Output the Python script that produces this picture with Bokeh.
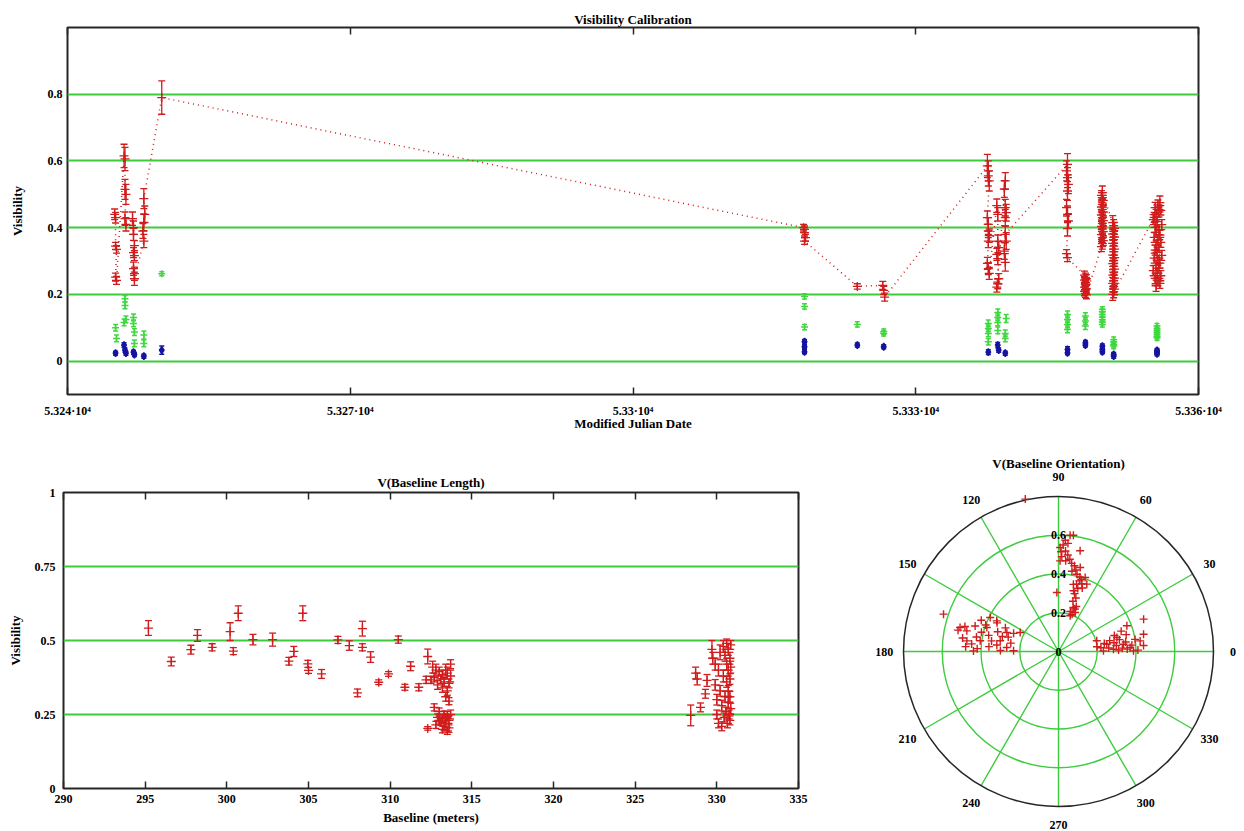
import json
import numpy as np
from bokeh.plotting import figure
from bokeh.layouts import column, row
from bokeh.models import Range1d, FixedTicker, LinearAxis, CustomJSTickFormatter
from bokeh.embed import file_html
from bokeh.resources import INLINE
from bokeh.core.properties import value

# ---------------------------------------------------------------- data
mjd_ticks = [53240, 53270, 53300, 53330, 53360]
mjd_tick_labels = ["5.324·10⁴", "5.327·10⁴", "5.33·10⁴", "5.333·10⁴", "5.336·10⁴"]
vis_ticks_top = [0, 0.2, 0.4, 0.6, 0.8]

red_mjd = [
    53245.0, 53245.1, 53245.1, 53245.2, 53245.1, 53245.2,
    53246.0, 53246.1, 53246.1, 53246.2, 53246.1, 53246.2,
    53246.9, 53247.0, 53247.0, 53247.1, 53247.0, 53247.1, 53247.0, 53247.1, 53247.1,
    53248.1, 53248.0, 53248.1, 53248.2, 53248.1,
    53250.0,
    53318.1, 53318.2, 53318.2, 53318.3, 53318.2,
    53323.8,
    53326.5, 53326.6, 53326.7,
    53337.6, 53337.7, 53337.7, 53337.8, 53337.6, 53337.7, 53337.7, 53337.8, 53337.7, 53337.6, 53337.7, 53337.8,
    53338.6, 53338.7, 53338.7, 53338.8, 53338.6, 53338.7, 53338.8, 53338.7, 53338.6,
    53339.5, 53339.4, 53339.5, 53339.6, 53339.5, 53339.4, 53339.5, 53339.6, 53339.5,
    53346.1, 53346.0, 53346.1, 53346.2, 53346.1, 53346.0, 53346.1, 53346.2, 53346.1, 53346.0, 53346.1,
    53347.9, 53348.0, 53348.1, 53347.9, 53348.0, 53348.1, 53348.0, 53347.9, 53348.1, 53348.0, 53347.9, 53348.0, 53348.1,
    53349.7, 53349.8, 53349.9, 53349.8, 53349.7, 53349.9, 53349.8, 53349.7, 53349.8, 53349.9,
    53349.8, 53349.7, 53349.9, 53349.8, 53349.7, 53349.8, 53349.9, 53349.8, 53349.7, 53349.8,
    53350.9, 53351.0, 53351.1, 53351.0, 53350.9, 53351.1, 53351.0, 53350.9, 53351.0, 53351.1,
    53351.0, 53350.9, 53351.1, 53351.0, 53350.9, 53351.0, 53351.1, 53351.0, 53350.9, 53351.1,
    53351.0, 53350.9, 53351.0, 53351.1, 53351.0, 53350.9,
    53355.3, 53355.5, 53355.8, 53356.0, 53355.4, 53355.7, 53355.9, 53355.2, 53355.6, 53356.1,
    53355.4, 53355.8, 53355.5, 53355.9, 53355.3, 53355.7, 53356.0, 53355.5, 53355.8, 53355.4,
    53355.6, 53356.1, 53355.3, 53355.7, 53355.9, 53355.5, 53355.8, 53355.2, 53355.6, 53356.0,
    53355.4, 53355.7, 53355.9, 53355.5,
]
red_vis = [
    0.440, 0.430, 0.345, 0.335, 0.252, 0.242,
    0.615, 0.606, 0.515, 0.500, 0.427, 0.410,
    0.427, 0.400, 0.380, 0.346, 0.325, 0.316, 0.277, 0.262, 0.247,
    0.360, 0.390, 0.416, 0.440, 0.487,
    0.790,
    0.400, 0.395, 0.385, 0.370, 0.360,
    0.224,
    0.227, 0.212, 0.192,
    0.585, 0.570, 0.555, 0.540, 0.430, 0.410, 0.390, 0.376, 0.360, 0.293, 0.277, 0.263,
    0.466, 0.440, 0.360, 0.340, 0.320, 0.307, 0.247, 0.232, 0.222,
    0.540, 0.516, 0.460, 0.445, 0.430, 0.330, 0.296, 0.360, 0.380,
    0.590, 0.570, 0.550, 0.530, 0.510, 0.460, 0.440, 0.420, 0.397, 0.322, 0.310,
    0.258, 0.251, 0.247, 0.243, 0.236, 0.231, 0.229, 0.222, 0.217, 0.214, 0.209, 0.203, 0.199,
    0.343, 0.352, 0.361, 0.370, 0.379, 0.388, 0.396, 0.404, 0.413, 0.421,
    0.430, 0.438, 0.447, 0.455, 0.462, 0.470, 0.482, 0.490, 0.497, 0.505,
    0.415, 0.406, 0.398, 0.389, 0.381, 0.372, 0.364, 0.353, 0.345, 0.336,
    0.328, 0.318, 0.310, 0.301, 0.292, 0.284, 0.276, 0.267, 0.258, 0.249,
    0.241, 0.233, 0.224, 0.216, 0.208, 0.200,
    0.431, 0.439, 0.447, 0.452, 0.460, 0.468, 0.475, 0.424, 0.418, 0.409,
    0.401, 0.394, 0.386, 0.378, 0.371, 0.363, 0.356, 0.348, 0.341, 0.333,
    0.326, 0.317, 0.309, 0.302, 0.294, 0.287, 0.279, 0.271, 0.264, 0.256,
    0.248, 0.241, 0.233, 0.226,
]
red_err = [
    0.016, 0.016, 0.011, 0.011, 0.012, 0.012,
    0.035, 0.035, 0.030, 0.030, 0.020, 0.020,
    0.020, 0.020, 0.018, 0.015, 0.015, 0.015, 0.020, 0.020, 0.020,
    0.020, 0.022, 0.025, 0.025, 0.030,
    0.050,
    0.010, 0.010, 0.010, 0.010, 0.010,
    0.008,
    0.012, 0.012, 0.012,
    0.035, 0.030, 0.030, 0.030, 0.020, 0.020, 0.020, 0.020, 0.020, 0.018, 0.018, 0.018,
    0.020, 0.020, 0.018, 0.018, 0.018, 0.018, 0.015, 0.015, 0.015,
    0.025, 0.025, 0.025, 0.025, 0.025, 0.025, 0.026, 0.025, 0.025,
    0.032, 0.030, 0.030, 0.028, 0.028, 0.025, 0.025, 0.022, 0.022, 0.012, 0.012,
    0.012, 0.013, 0.012, 0.011, 0.012, 0.013, 0.012, 0.012, 0.011, 0.012, 0.013, 0.012, 0.012,
    0.015, 0.016, 0.015, 0.014, 0.015, 0.016, 0.015, 0.015, 0.014, 0.015,
    0.016, 0.015, 0.015, 0.014, 0.015, 0.016, 0.015, 0.015, 0.014, 0.020,
    0.021, 0.018, 0.018, 0.017, 0.018, 0.019, 0.018, 0.018, 0.017, 0.018,
    0.019, 0.018, 0.018, 0.017, 0.018, 0.019, 0.018, 0.018, 0.017, 0.018,
    0.019, 0.018, 0.018, 0.017, 0.018, 0.018,
    0.015, 0.016, 0.015, 0.014, 0.016, 0.015, 0.020, 0.015, 0.014, 0.015,
    0.016, 0.015, 0.015, 0.014, 0.015, 0.016, 0.015, 0.015, 0.014, 0.015,
    0.016, 0.015, 0.015, 0.014, 0.015, 0.016, 0.015, 0.015, 0.014, 0.015,
    0.016, 0.015, 0.015, 0.017,
]

green_mjd = [
    53245.1, 53245.2, 53246.1, 53246.1, 53246.0, 53246.2, 53247.0, 53247.0, 53247.1, 53247.1, 53248.1, 53248.1, 53250.0,
    53318.2, 53318.2, 53318.2, 53323.8, 53326.6, 53326.6,
    53337.7, 53337.7, 53337.7, 53337.7, 53338.7, 53338.7, 53338.7, 53338.7, 53339.6, 53339.5, 53339.5,
    53346.1, 53346.1, 53346.1, 53346.1, 53348.0, 53348.0, 53348.0,
    53349.8, 53349.8, 53349.8, 53349.8, 53349.8, 53349.8, 53349.8, 53351.0, 53351.0, 53351.0, 53351.0,
    53355.6, 53355.6, 53355.6, 53355.6, 53355.6, 53355.6, 53355.6,
]
green_vis = [
    0.100, 0.068, 0.187, 0.167, 0.116, 0.125, 0.131, 0.113, 0.087, 0.053, 0.078, 0.053, 0.262,
    0.194, 0.164, 0.102, 0.110, 0.088, 0.083,
    0.113, 0.098, 0.083, 0.058, 0.146, 0.131, 0.116, 0.092, 0.128, 0.083, 0.068,
    0.140, 0.125, 0.110, 0.095, 0.135, 0.120, 0.105,
    0.155, 0.148, 0.140, 0.132, 0.124, 0.117, 0.110, 0.064, 0.057, 0.050, 0.045,
    0.105, 0.098, 0.092, 0.086, 0.080, 0.074, 0.070,
]
green_err = [
    0.010, 0.010, 0.010, 0.010, 0.010, 0.010, 0.010, 0.010, 0.010, 0.010, 0.012, 0.010, 0.006,
    0.008, 0.008, 0.008, 0.008, 0.008, 0.008,
    0.010, 0.010, 0.010, 0.010, 0.010, 0.010, 0.010, 0.010, 0.012, 0.010, 0.010,
    0.010, 0.010, 0.010, 0.010, 0.010, 0.010, 0.010,
    0.008, 0.008, 0.008, 0.008, 0.008, 0.008, 0.008, 0.008, 0.008, 0.008, 0.008,
    0.008, 0.008, 0.008, 0.008, 0.008, 0.008, 0.008,
]

blue_mjd = [
    53245.1, 53246.0, 53246.1, 53246.2, 53247.0, 53247.1, 53248.1, 53250.0,
    53318.2, 53318.2, 53318.2, 53323.8, 53326.6,
    53337.7, 53338.7, 53338.8, 53339.5,
    53346.1, 53346.1, 53348.0, 53348.0, 53349.8, 53349.8, 53349.8, 53351.0, 53351.0,
    53355.6, 53355.6, 53355.6,
]
blue_vis = [
    0.024, 0.048, 0.033, 0.024, 0.027, 0.020, 0.015, 0.033,
    0.058, 0.043, 0.028, 0.048, 0.043,
    0.027, 0.048, 0.033, 0.024,
    0.035, 0.025, 0.055, 0.048, 0.045, 0.035, 0.028, 0.020, 0.015,
    0.032, 0.027, 0.022,
]
blue_err = [
    0.006, 0.007, 0.006, 0.006, 0.006, 0.006, 0.006, 0.012,
    0.007, 0.006, 0.006, 0.006, 0.006,
    0.007, 0.008, 0.006, 0.006,
    0.008, 0.006, 0.007, 0.006, 0.006, 0.006, 0.006, 0.006, 0.006,
    0.006, 0.006, 0.006,
]

baseline_ticks = [290, 295, 300, 305, 310, 315, 320, 325, 330, 335]
vis_ticks_bl = [0, 0.25, 0.5, 0.75, 1]

bl_len = [
    295.2, 296.6, 297.8, 298.2, 299.1, 300.2, 300.4, 300.7, 301.6, 302.8,
    303.8, 304.1, 304.65, 304.96, 305.0, 305.8, 306.8, 307.5, 308.0, 308.3,
    308.3, 308.8, 309.3, 309.9, 310.5, 310.9, 311.25, 311.75, 312.3, 312.2, 312.5,
    312.6, 312.8, 313.0, 313.2, 313.4, 313.5, 312.7, 313.1, 313.3, 313.6,
    312.9, 313.2, 313.5, 313.4, 313.6, 312.7, 313.0, 313.3, 313.5, 312.9,
    313.2, 313.6, 313.1, 313.4, 312.8, 313.3, 313.6, 313.5, 312.3, 313.2,
    313.4, 313.0, 313.7, 313.7, 313.7,
    328.4, 328.7, 328.8, 329.0, 329.3, 329.4, 329.7, 329.75, 329.9, 329.9,
    330.0, 330.0, 330.1, 330.1, 330.2, 330.2, 330.3, 330.3, 330.4, 330.4,
    330.45, 330.5, 330.5, 330.55, 330.6, 330.6, 330.6, 330.65, 330.7, 330.7,
    330.7, 330.7, 330.75, 330.8, 330.8, 330.8, 330.8, 330.85, 330.85, 330.85,
]
bl_vis = [
    0.542, 0.429, 0.469, 0.517, 0.477, 0.530, 0.464, 0.592, 0.503, 0.503,
    0.430, 0.463, 0.592, 0.421, 0.399, 0.387, 0.502, 0.483, 0.323, 0.540,
    0.477, 0.444, 0.359, 0.387, 0.503, 0.342, 0.413, 0.342, 0.446, 0.367, 0.367,
    0.410, 0.400, 0.395, 0.385, 0.400, 0.390, 0.375, 0.370, 0.360, 0.355,
    0.350, 0.340, 0.330, 0.310, 0.295, 0.274, 0.260, 0.250, 0.245, 0.240,
    0.235, 0.230, 0.225, 0.220, 0.215, 0.210, 0.205, 0.195, 0.203, 0.200,
    0.240, 0.230, 0.420, 0.380, 0.250,
    0.247, 0.390, 0.370, 0.274, 0.320, 0.365, 0.470, 0.440, 0.420, 0.350,
    0.300, 0.250, 0.400, 0.220, 0.460, 0.330, 0.280, 0.210, 0.480, 0.380,
    0.240, 0.450, 0.310, 0.260, 0.490, 0.420, 0.360, 0.220, 0.470, 0.400,
    0.330, 0.290, 0.250, 0.440, 0.370, 0.310, 0.230, 0.485, 0.410, 0.270,
]
bl_err = [
    0.025, 0.015, 0.015, 0.020, 0.012, 0.030, 0.012, 0.025, 0.018, 0.022,
    0.013, 0.017, 0.025, 0.012, 0.010, 0.015, 0.012, 0.016, 0.013, 0.025,
    0.012, 0.018, 0.008, 0.008, 0.012, 0.010, 0.015, 0.012, 0.025, 0.012, 0.012,
    0.020, 0.020, 0.015, 0.015, 0.020, 0.020, 0.015, 0.015, 0.015, 0.015,
    0.015, 0.015, 0.015, 0.015, 0.012, 0.012, 0.012, 0.012, 0.015, 0.012,
    0.015, 0.015, 0.012, 0.015, 0.012, 0.015, 0.015, 0.012, 0.006, 0.012,
    0.012, 0.012, 0.015, 0.020, 0.015,
    0.035, 0.020, 0.020, 0.015, 0.015, 0.020, 0.030, 0.020, 0.020, 0.018,
    0.018, 0.015, 0.020, 0.015, 0.025, 0.018, 0.018, 0.015, 0.020, 0.020,
    0.015, 0.020, 0.018, 0.015, 0.015, 0.020, 0.018, 0.015, 0.020, 0.020,
    0.018, 0.018, 0.015, 0.020, 0.018, 0.018, 0.015, 0.015, 0.020, 0.018,
]

pol_angle = [
    84.3, 82.7, 89.1, 87.5, 86.0, 84.5, 88.0, 85.5, 83.0, 89.0,
    81.5, 79.5, 77.9, 75.5, 78.0, 80.5, 76.5, 74.0, 72.5, 70.2,
    73.5, 67.2, 71.0, 75.0, 77.5, 69.5, 73.0, 76.1, 74.5, 91.6,
    72.0, 74.0, 71.3, 69.0, 66.9, 71.9, 73.5, 70.0, 68.5, 86.5,
    85.0, 88.5, 102.3,
    166.3, 167.3, 179.6, 153.5, 153.6, 179.0, 153.6, 172.2, 169.6, 159.8,
    161.5, 173.4, 175.6, 165.0, 175.0, 160.0, 155.0, 170.0, 178.0, 165.0,
    158.0, 168.0, 172.0, 177.0, 163.0, 170.0, 176.0, 167.0, 162.0, 174.0,
    156.0, 164.0, 179.0, 171.0, 158.0, 166.0, 162.0,
    15.6, 0.8, 13.5, 20.6, 0.5, 7.4, 11.5, 6.4, 8.6, 2.4,
    3.2, 5.0, 10.0, 4.0, 9.0, 1.5, 12.0, 6.0, 3.0, 8.0,
    2.0, 5.0, 1.0, 4.0, 9.0, 14.0, 11.0, 7.0, 16.0, 18.0, 20.8,
]
pol_vis = [
    0.603, 0.605, 0.537, 0.550, 0.520, 0.500, 0.490, 0.470, 0.480, 0.468,
    0.460, 0.450, 0.532, 0.448, 0.430, 0.420, 0.410, 0.400, 0.390, 0.406,
    0.380, 0.377, 0.370, 0.360, 0.355, 0.350, 0.340, 0.323, 0.310, 0.305,
    0.290, 0.270, 0.240, 0.235, 0.219, 0.194, 0.215, 0.205, 0.250, 0.575,
    0.560, 0.515, 0.805,
    0.523, 0.485, 0.439, 0.394, 0.356, 0.232, 0.221, 0.408, 0.306, 0.284,
    0.390, 0.476, 0.268, 0.500, 0.450, 0.400, 0.350, 0.250, 0.420, 0.300,
    0.250, 0.530, 0.500, 0.480, 0.450, 0.430, 0.360, 0.370, 0.330, 0.320,
    0.300, 0.270, 0.300, 0.350, 0.430, 0.410, 0.624,
    0.205, 0.232, 0.310, 0.377, 0.387, 0.425, 0.448, 0.338, 0.252, 0.284,
    0.370, 0.220, 0.240, 0.260, 0.290, 0.310, 0.270, 0.300, 0.330, 0.350,
    0.355, 0.380, 0.410, 0.440, 0.400, 0.360, 0.320, 0.200, 0.300, 0.340, 0.470,
]
pol_rings = [0.2, 0.4, 0.6]
pol_outer = 0.8
pol_spokes = [0, 30, 60, 90, 120, 150, 180, 210, 240, 270, 300, 330]
pol_ring_label_r = [0, 0.2, 0.4, 0.6]
pol_ring_labels = ["0", "0.2", "0.4", "0.6"]

for a, b in [(red_mjd, red_vis), (red_vis, red_err), (green_mjd, green_vis), (green_vis, green_err),
             (blue_mjd, blue_vis), (blue_vis, blue_err), (bl_len, bl_vis), (bl_vis, bl_err),
             (pol_angle, pol_vis)]:
    if len(a) != len(b):
        raise ValueError(f"length mismatch {len(a)} vs {len(b)}")

# ---------------------------------------------------------------- style
FONT = "Liberation Serif"
FS = "12px"
FS_T = "13px"
WEIGHT = "bold"
GRID = "#3ccc3c"
RED = "#d01c1c"
GREEN = "#3ed83e"
BLUE = "#1414a0"
FRAME = "#262626"


def num_fmt():
    return CustomJSTickFormatter(code="return String(Math.round(tick * 100) / 100);")


def label_fmt(vals, labels):
    return CustomJSTickFormatter(code="const v = %s; const l = %s;"
                                 "const i = v.findIndex(t => Math.abs(t - tick) < 1e-6);"
                                 "return i >= 0 ? l[i] : '';" % (json.dumps(vals), json.dumps(labels)))


def make_panel(width, height, xr, yr, borders, title, xticks, yticks, gridticks,
               xlabel, ylabel, xfmt, title_standoff, xl_standoff, xal_standoff, yl_standoff, yal_standoff):
    p = figure(width=width, height=height, x_range=Range1d(*xr), y_range=Range1d(*yr),
               output_backend="svg", toolbar_location=None, title=title,
               min_border_left=borders[0], min_border_right=borders[1],
               min_border_top=borders[2], min_border_bottom=borders[3])
    p.background_fill_color = "white"
    p.border_fill_color = "white"
    p.outline_line_color = FRAME
    p.outline_line_width = 2
    p.title.align = "center"
    p.title.text_font = FONT
    p.title.text_font_size = FS_T
    p.title.text_font_style = WEIGHT
    p.title.text_color = "black"
    p.title.standoff = title_standoff
    p.xgrid.visible = False
    p.ygrid.ticker = FixedTicker(ticks=gridticks)
    p.ygrid.grid_line_color = GRID
    p.ygrid.grid_line_width = 2

    xa = p.xaxis[0]
    xa.ticker = FixedTicker(ticks=xticks)
    xa.formatter = xfmt
    xa.axis_label = xlabel
    xa.major_tick_in = 7
    xa.major_tick_out = 0
    xa.major_tick_line_color = FRAME
    xa.major_tick_line_width = 1.5
    xa.minor_tick_line_color = None
    xa.axis_line_color = None
    xa.major_label_standoff = xl_standoff
    xa.axis_label_standoff = xal_standoff

    ya = p.yaxis[0]
    ya.ticker = FixedTicker(ticks=yticks)
    ya.formatter = num_fmt()
    ya.axis_label = ylabel
    ya.major_tick_in = 0
    ya.major_tick_out = 0
    ya.minor_tick_line_color = None
    ya.axis_line_color = None
    ya.major_label_standoff = yl_standoff
    ya.axis_label_standoff = yal_standoff

    for ax in (xa, ya):
        ax.major_label_text_font = FONT
        ax.major_label_text_font_size = FS
        ax.major_label_text_font_style = WEIGHT
        ax.major_label_text_color = "black"
        ax.axis_label_text_font = FONT
        ax.axis_label_text_font_size = FS_T
        ax.axis_label_text_font_style = WEIGHT
        ax.axis_label_text_color = "black"

    top_ax = LinearAxis(ticker=FixedTicker(ticks=xticks),
                        formatter=CustomJSTickFormatter(code="return '';"),
                        major_tick_in=7, major_tick_out=0, major_tick_line_color=FRAME,
                        major_tick_line_width=1.5, minor_tick_line_color=None,
                        axis_line_color=None, major_label_standoff=0,
                        major_label_text_font_size="1px")
    p.add_layout(top_ax, "above")
    return p


def error_points(p, x, y, e, color, cap, marker, msize, lw=1.3):
    x = np.asarray(x, float)
    y = np.asarray(y, float)
    e = np.asarray(e, float)
    lo, hi = y - e, y + e
    p.segment(x0=x, y0=lo, x1=x, y1=hi, line_color=color, line_width=lw)
    p.scatter(np.concatenate([x, x]), np.concatenate([lo, hi]), marker="dash",
              size=cap, line_color=color, line_width=lw)
    p.scatter(x, y, marker=marker, size=msize, line_color=color, fill_color=color, line_width=lw)


# ---------------------------------------------------------------- top panel
top = make_panel(1244, 440, (53240, 53360), (-0.1, 1.0), (67, 46, 27, 46),
                 "Visibility Calibration", mjd_ticks, vis_ticks_top, vis_ticks_top,
                 "Modified Julian Date", "Visibility", label_fmt(mjd_ticks, mjd_tick_labels),
                 title_standoff=2, xl_standoff=9, xal_standoff=-5, yl_standoff=5, yal_standoff=20)

top.line(red_mjd, red_vis, line_color=RED, line_width=1.5, line_dash="1 4")
error_points(top, green_mjd, green_vis, green_err, GREEN, 5, "cross", 7, lw=1.5)
error_points(top, blue_mjd, blue_vis, blue_err, BLUE, 5, "diamond", 7, lw=1.5)
error_points(top, red_mjd, red_vis, red_err, RED, 7, "cross", 9)

# ---------------------------------------------------------------- baseline length panel
bl = make_panel(860, 391, (290, 335), (0, 1), (63, 62, 52, 43),
                "V(Baseline Length)", baseline_ticks, vis_ticks_bl, [0.25, 0.5, 0.75],
                "Baseline (meters)", "Visibility", num_fmt(),
                title_standoff=6, xl_standoff=6, xal_standoff=4, yl_standoff=8, yal_standoff=9)
error_points(bl, bl_len, bl_vis, bl_err, RED, 7, "cross", 9)

# ---------------------------------------------------------------- polar panel
pol = figure(width=384, height=391, x_range=Range1d(-1.022, 0.960), y_range=Range1d(-0.929, 1.089),
             output_backend="svg", toolbar_location=None, x_axis_type=None, y_axis_type=None,
             min_border=0)
pol.grid.visible = False
pol.outline_line_color = None
pol.background_fill_color = "white"
pol.border_fill_color = "white"

sp = np.radians(pol_spokes)
pol.segment(x0=np.zeros(len(sp)), y0=np.zeros(len(sp)), x1=pol_outer * np.cos(sp),
            y1=pol_outer * np.sin(sp), line_color=GRID, line_width=1.4)
pol.circle(x=[0] * len(pol_rings), y=[0] * len(pol_rings), radius=pol_rings,
           fill_color=None, line_color=GRID, line_width=1.4)
pol.circle(x=[0], y=[0], radius=[pol_outer], fill_color=None, line_color=FRAME, line_width=1.5)

th = np.radians(pol_angle)
pv = np.asarray(pol_vis)
pol.scatter(pv * np.cos(th), pv * np.sin(th), marker="cross", size=8, line_color=RED, line_width=1.4)

pol.text(x=[0] * len(pol_ring_labels), y=pol_ring_label_r, text=pol_ring_labels,
         text_font=value(FONT), text_font_size=FS, text_font_style=WEIGHT, text_align="center",
         text_baseline="middle", text_color="black")

lab_r = 0.9
side_ang = [a for a in pol_spokes if a != 270]
la = np.radians(side_ang)
pol.text(x=lab_r * np.cos(la), y=lab_r * np.sin(la), text=[str(a) for a in side_ang],
         text_font=value(FONT), text_font_size=FS, text_font_style=WEIGHT, text_align="center",
         text_baseline="middle", text_color="black")
# the 270 label sits at the very bottom edge: anchor it by its bottom so it stays inside
pol.text(x=[0], y=[-0.915], text=["270"], text_font=value(FONT), text_font_size=FS,
         text_font_style=WEIGHT, text_align="center", text_baseline="bottom", text_color="black")
pol.text(x=[0], y=[0.97], text=["V(Baseline Orientation)"], text_font=value(FONT), text_font_size=FS_T,
         text_font_style=WEIGHT, text_align="center", text_baseline="middle", text_color="black")

layout = column(top, row(bl, column(pol)))
open("out.html", "w").write(file_html(layout, INLINE))
